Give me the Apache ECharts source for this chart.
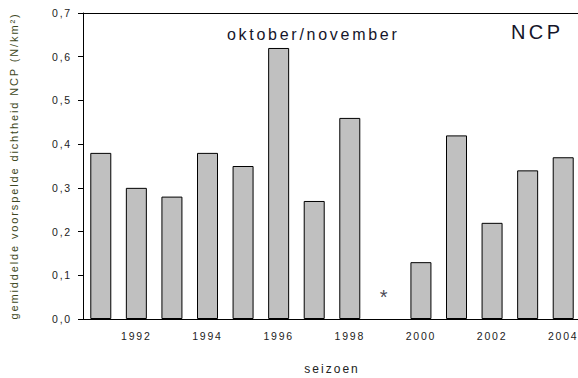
<!DOCTYPE html>
<html>
<head>
<meta charset="utf-8">
<script src="https://cdn.jsdelivr.net/npm/echarts@6/dist/echarts.min.js"></script>
<style>
  html, body { margin: 0; padding: 0; background: #fff; }
  #chart { width: 578px; height: 378px; }
  /* the figure uses loosely spaced lettering throughout */
  #chart text { letter-spacing: 0.17em; }
</style>
</head>
<body>
<div id="chart"></div>
<script>
// Seasons shown on the x axis
const seasons = ['1991','1992','1993','1994','1995','1996','1997','1998','1999','2000','2001','2002','2003','2004'];
// Mean predicted density NCP (N/km²), October/November; 1999 has no estimate
const density = [0.38, 0.30, 0.28, 0.38, 0.35, 0.62, 0.27, 0.46, null, 0.13, 0.42, 0.22, 0.34, 0.37];
// Season without an estimate, flagged with an asterisk
const missingSeason = '1999';
const missingMarkY = 0.05;
// Y axis tick values
const yTicks = [0, 0.1, 0.2, 0.3, 0.4, 0.5, 0.6, 0.7];

const font = 'Liberation Sans, Arial, sans-serif';
const chart = echarts.init(document.getElementById('chart'), null, { renderer: 'svg' });

const evenYear = (i) => Number(seasons[i]) % 2 === 0;

chart.setOption({
  animation: false,
  textStyle: { fontFamily: font },
  grid: { left: 83, top: 13, width: 498, height: 306, outerBoundsMode: 'none', containLabel: false },
  title: [
    { text: 'oktober/november', left: 222, top: 21,
      textStyle: { fontFamily: font, fontSize: 16, fontWeight: 'normal', color: '#15152a' } },
    { text: 'NCP', left: 506, top: 17,
      textStyle: { fontFamily: font, fontSize: 20, fontWeight: 'normal', color: '#15152a' } }
  ],
  xAxis: [
    {
      type: 'category',
      data: seasons,
      boundaryGap: true,
      name: 'seizoen',
      nameLocation: 'middle',
      nameGap: 44,
      nameTextStyle: { fontFamily: font, fontSize: 12, color: '#222' },
      axisLine: { lineStyle: { color: '#000', width: 1 } },
      axisTick: { alignWithLabel: true, length: 5, interval: (i) => evenYear(i), lineStyle: { color: '#000' } },
      axisLabel: { interval: (i) => evenYear(i), margin: 11, fontSize: 10.5, color: '#222', fontFamily: font }
    },
    {
      type: 'category',
      data: seasons,
      position: 'top',
      axisLine: { lineStyle: { color: '#000', width: 1 } },
      axisTick: { show: false },
      axisLabel: { show: false }
    }
  ],
  yAxis: {
    type: 'value',
    min: 0,
    max: 0.7,
    interval: 0.1,
    name: 'gemiddelde voorspelde dichtheid NCP (N/km²)',
    nameLocation: 'middle',
    nameGap: 64,
    nameTextStyle: { fontFamily: font, fontSize: 11, color: '#3d4722' },
    splitLine: { show: false },
    axisLine: { show: true, lineStyle: { color: '#000', width: 1 } },
    axisTick: { show: true, length: 5, lineStyle: { color: '#000' } },
    axisLabel: {
      margin: 11, fontSize: 10.5, color: '#222', fontFamily: font,
      formatter: (v) => yTicks.includes(Math.round(v * 10) / 10) ? v.toFixed(1).replace('.', ',') : ''
    }
  },
  series: [
    {
      type: 'bar',
      data: density,
      barWidth: 21,
      itemStyle: { color: '#c0c0c0', borderColor: '#000', borderWidth: 1 }
    },
    {
      type: 'scatter',
      data: [[missingSeason, missingMarkY]],
      symbolSize: 0,
      label: { show: true, position: 'inside', formatter: '*', fontSize: 20, color: '#15152a', fontFamily: font }
    }
  ]
});
</script>
</body>
</html>
